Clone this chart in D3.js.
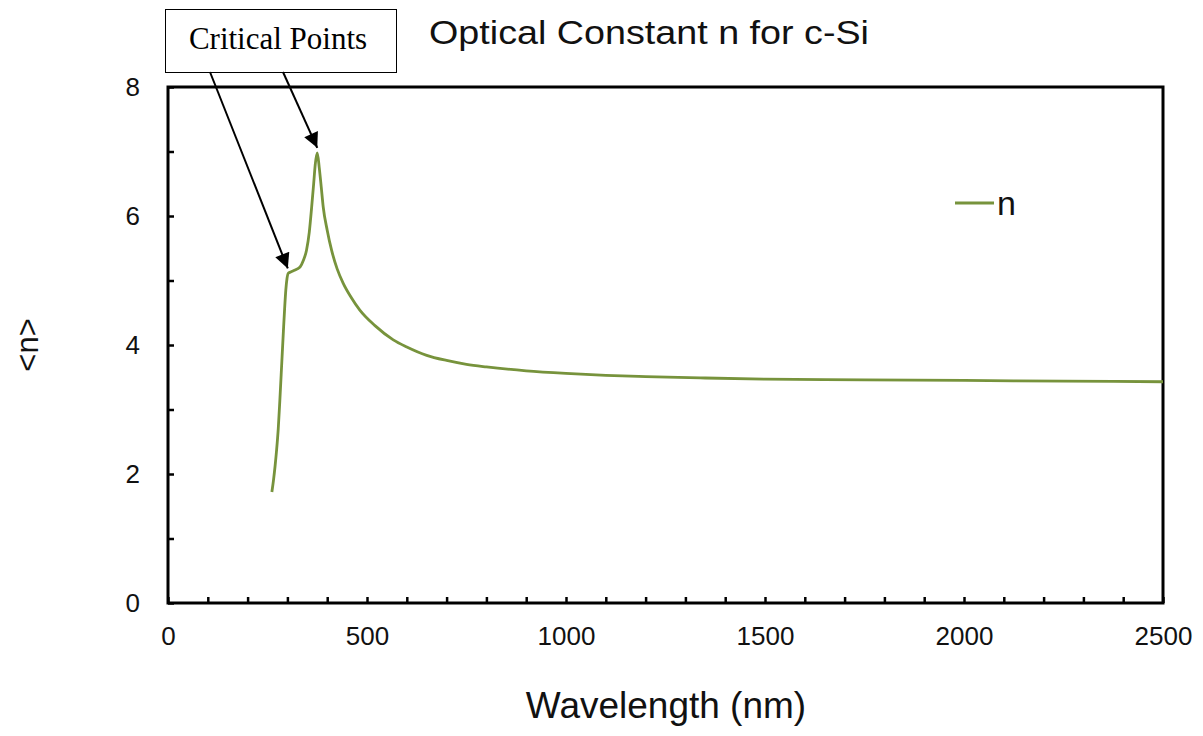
<!DOCTYPE html>
<html>
<head>
<meta charset="utf-8">
<script src="https://cdn.jsdelivr.net/npm/d3@7"></script>
<style>
  html, body { margin: 0; padding: 0; background: #ffffff; }
  svg { display: block; }
  .sans { font-family: "Liberation Sans", Arial, sans-serif; fill: #111; }
  .serif { font-family: "Liberation Serif", "Times New Roman", serif; fill: #000; }
</style>
</head>
<body>
<svg id="chart" width="1203" height="736"></svg>
<script>
// Refractive index n of crystalline silicon vs. wavelength
const wavelength = [
  261, 265, 269, 273, 277, 281, 286, 290, 293, 296, 299, 302, 308, 315, 325,
  332, 340, 348, 355, 361, 366, 370, 375, 380, 385, 390, 400, 411, 425, 440,
  460, 482, 520, 566, 600, 650, 700, 750, 800, 900, 1000, 1100, 1200, 1337,
  1500, 1750, 2000, 2250, 2500
];
const nValues = [
  1.72, 1.90, 2.12, 2.38, 2.70, 3.14, 3.74, 4.22, 4.56, 4.85, 5.03, 5.11, 5.13, 5.15, 5.18,
  5.21, 5.31, 5.47, 5.75, 6.14, 6.50, 6.80, 6.98, 6.75, 6.45, 6.14, 5.78, 5.47, 5.18, 4.96,
  4.74, 4.54, 4.30, 4.08, 3.97, 3.84, 3.76, 3.70, 3.66, 3.60, 3.56, 3.53, 3.51, 3.49,
  3.47, 3.46, 3.45, 3.44, 3.43
];
const xTicks = [0, 500, 1000, 1500, 2000, 2500];
const yTicks = [0, 2, 4, 6, 8];
// critical points marked by the callout: [wavelength, n]
const criticalPoints = [[301, 5.11], [375, 6.98]];

const svg = d3.select("#chart");
const plotLeft = 168, plotRight = 1163, plotTop = 87, plotBottom = 603;

const x = d3.scaleLinear().domain([0, 2500]).range([plotLeft, plotRight]);
const y = d3.scaleLinear().domain([0, 8]).range([plotBottom, plotTop]);

// axes with inward ticks (minor every 100 nm / 1 unit)
const xAxis = d3.axisBottom(x)
  .tickValues(d3.range(0, 2501, 100))
  .tickSize(-6)
  .tickPadding(24)
  .tickFormat(d => xTicks.includes(d) ? d : "");
const yAxis = d3.axisLeft(y)
  .tickValues(d3.range(0, 9, 1))
  .tickSize(-6)
  .tickPadding(28)
  .tickFormat(d => yTicks.includes(d) ? d : "");

const gx = svg.append("g").attr("transform", `translate(0,${plotBottom})`).call(xAxis);
const gy = svg.append("g").attr("transform", `translate(${plotLeft},0)`).call(yAxis);
[gx, gy].forEach(g => {
  g.select(".domain").remove();
  g.selectAll(".tick line").attr("stroke", "#000").attr("stroke-width", 2.5);
  g.selectAll(".tick text")
    .attr("class", "sans")
    .style("font-size", "26px")
    .attr("fill", "#111");
});

// plot frame
svg.append("rect")
  .attr("x", plotLeft).attr("y", plotTop)
  .attr("width", plotRight - plotLeft).attr("height", plotBottom - plotTop)
  .attr("fill", "none").attr("stroke", "#000").attr("stroke-width", 3);

// data line
const pts = wavelength.map((w, i) => [w, nValues[i]]);
svg.append("path")
  .datum(pts)
  .attr("fill", "none")
  .attr("stroke", "#77933C")
  .attr("stroke-width", 2.8)
  .attr("stroke-linejoin", "round")
  .attr("d", d3.line().x(d => x(d[0])).y(d => y(d[1])).curve(d3.curveMonotoneX));

// title and axis labels
svg.append("text").attr("class", "sans")
  .attr("x", 649).attr("y", 44)
  .attr("text-anchor", "middle")
  .attr("textLength", 440).attr("lengthAdjust", "spacingAndGlyphs")
  .style("font-size", "33px")
  .text("Optical Constant n for c-Si");

svg.append("text").attr("class", "sans")
  .attr("x", 666).attr("y", 718)
  .attr("text-anchor", "middle")
  .style("font-size", "37px")
  .text("Wavelength (nm)");

svg.append("text").attr("class", "sans")
  .attr("transform", "translate(38,345) rotate(-90)")
  .attr("text-anchor", "middle")
  .style("font-size", "31px")
  .text("<n>");

// legend
svg.append("line")
  .attr("x1", 955).attr("x2", 994).attr("y1", 203).attr("y2", 203)
  .attr("stroke", "#77933C").attr("stroke-width", 2.8);
svg.append("text").attr("class", "sans")
  .attr("x", 997).attr("y", 215)
  .style("font-size", "34px")
  .text("n");

// callout box with arrows to the critical points
const defs = svg.append("defs");
defs.append("marker")
  .attr("id", "arrowhead")
  .attr("viewBox", "0 0 10 10")
  .attr("refX", 10).attr("refY", 5)
  .attr("markerWidth", 9).attr("markerHeight", 7.5)
  .attr("markerUnits", "strokeWidth")
  .attr("orient", "auto")
  .append("path").attr("d", "M0,0 L10,5 L0,10 Z").attr("fill", "#000");

svg.append("rect")
  .attr("x", 165.5).attr("y", 9.5).attr("width", 231).attr("height", 63)
  .attr("fill", "#fff").attr("stroke", "#000").attr("stroke-width", 1);
svg.append("text").attr("class", "serif")
  .attr("x", 278).attr("y", 49)
  .attr("text-anchor", "middle")
  .style("font-size", "31px")
  .text("Critical Points");

const arrowStarts = [[210, 72], [283, 72]];
criticalPoints.forEach((p, i) => {
  const tx = x(p[0]), ty = y(p[1]) - 5;
  svg.append("line")
    .attr("x1", arrowStarts[i][0]).attr("y1", arrowStarts[i][1])
    .attr("x2", tx).attr("y2", ty)
    .attr("stroke", "#000").attr("stroke-width", 2)
    .attr("marker-end", "url(#arrowhead)");
});
</script>
</body>
</html>
